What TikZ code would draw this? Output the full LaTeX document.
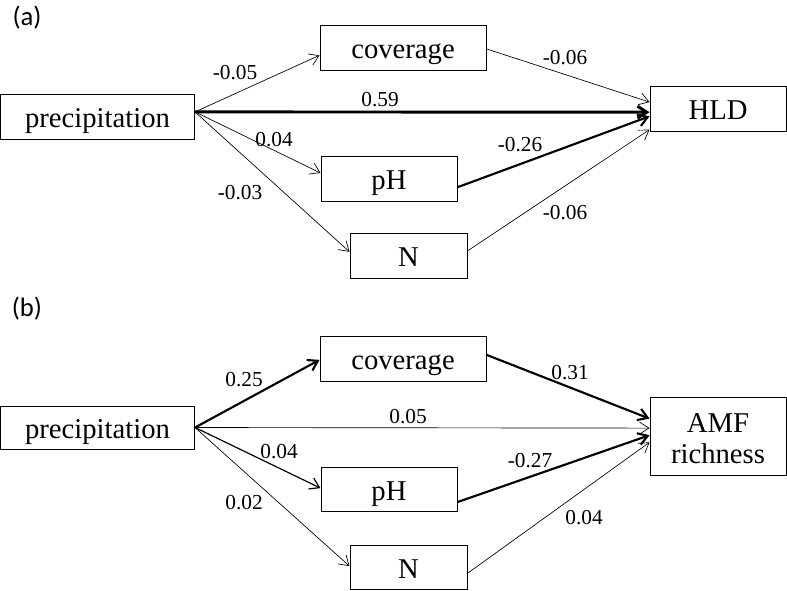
\documentclass[tikz,border=0pt]{standalone}
\usepackage{fontspec}
\setmainfont{Liberation Serif}
\newfontfamily\panelfont{Carlito}
\usetikzlibrary{arrows.meta,calc}

\tikzset{
  var/.style={draw, line width=0.75pt, inner sep=0pt, minimum height=33.75pt,
    text height=17.2pt, text depth=0pt, font=\fontsize{21.5}{23.25}\selectfont},
  coef/.style={inner sep=0pt, font=\fontsize{16}{18}\selectfont},
  panel/.style={inner sep=0pt, font=\panelfont\fontsize{20}{22}\selectfont},
  weak/.style={line width=0.5pt, -{Straight Barb[length=7pt,width=9pt]}},
  strong/.style={line width=1.6pt, -{Straight Barb[length=7pt,width=9pt]}}
}

\begin{document}
\begin{tikzpicture}[x=0.75pt,y=-0.75pt]
  \useasboundingbox (0,0) rectangle (787,590);

  % (a) HLD
  \node[panel] (labA) at (27,17.5) {(a)};
  \node[var, minimum width=145.5pt] (precA) at (97.5,116.5) {precipitation};
  \node[var, minimum width=124.5pt] (covA) at (403,47.5) {coverage};
  \node[var, minimum width=102pt] (phA) at (389,178.5) {pH};
  \node[var, minimum width=87.75pt] (nA) at (408.5,255.5) {N};
  \node[var, minimum width=102pt] (hld) at (718,108.5) {HLD};

  \draw[weak] ($(precA.north east)!0.4!(precA.south east)$) -- ($(covA.north west)!0.67!(covA.south west)$);
  \draw[strong, line width=2.2pt] ($(precA.north east)!0.4!(precA.south east)$) -- ($(hld.north west)!0.58!(hld.south west)$);
  \draw[weak] ($(precA.north east)!0.4!(precA.south east)$) -- ($(phA.north west)!0.38!(phA.south west)$);
  \draw[weak] ($(precA.north east)!0.4!(precA.south east)$) -- ($(nA.north west)!0.42!(nA.south west)$);
  \draw[weak] ($(covA.north east)!0.53!(covA.south east)$) -- ($(hld.north west)!0.36!(hld.south west)$);
  \draw[strong] ($(phA.north east)!0.69!(phA.south east)$) -- ($(hld.north west)!0.67!(hld.south west)$);
  \draw[weak] ($(nA.north east)!0.4!(nA.south east)$) -- ($(hld.north west)!0.96!(hld.south west)$);

  \node[coef] (cA1) at (235,72.5) {-0.05};
  \node[coef] (cA2) at (380,100) {0.59};
  \node[coef] (cA3) at (274,139.5) {0.04};
  \node[coef] (cA4) at (240,192.5) {-0.03};
  \node[coef] (cA5) at (565,57.5) {-0.06};
  \node[coef] (cA6) at (520,144.5) {-0.26};
  \node[coef] (cA7) at (565,212.5) {-0.06};

  % (b) AMF richness
  \node[panel] (labB) at (27,309) {(b)};
  \node[var, minimum width=145.5pt, minimum height=32.25pt] (precB) at (97.5,427.5) {precipitation};
  \node[var, minimum width=124.5pt] (covB) at (403,358.5) {coverage};
  \node[var, minimum width=102pt, minimum height=33pt] (phB) at (389,489) {pH};
  \node[var, minimum width=87.75pt, minimum height=33pt] (nB) at (408.5,567) {N};
  \node[var, minimum width=102pt, minimum height=58.5pt, text height=40.5pt, text depth=0pt, align=center] (amf) at (718,436) {AMF\\richness};

  \draw[strong] (precB.east) -- ($(covB.north west)!0.53!(covB.south west)$);
  \draw[weak] (precB.east) -- ($(amf.north west)!0.4!(amf.south west)$);
  \draw[weak, line width=0.9pt] (precB.east) -- ($(phB.north west)!0.48!(phB.south west)$);
  \draw[weak] (precB.east) -- ($(nB.north west)!0.48!(nB.south west)$);
  \draw[strong] ($(covB.north east)!0.42!(covB.south east)$) -- ($(amf.north west)!0.28!(amf.south west)$);
  \draw[strong] ($(phB.north east)!0.79!(phB.south east)$) -- ($(amf.north west)!0.49!(amf.south west)$);
  \draw[weak] ($(nB.north east)!0.64!(nB.south east)$) -- ($(amf.north west)!0.58!(amf.south west)$);

  \node[coef] (cB1) at (244,379.5) {0.25};
  \node[coef] (cB2) at (408,416.5) {0.05};
  \node[coef] (cB3) at (279,451.5) {0.04};
  \node[coef] (cB4) at (244,502.5) {0.02};
  \node[coef] (cB5) at (570,372.5) {0.31};
  \node[coef] (cB6) at (530,460.5) {-0.27};
  \node[coef] (cB7) at (584,517.5) {0.04};
\end{tikzpicture}
\end{document}
